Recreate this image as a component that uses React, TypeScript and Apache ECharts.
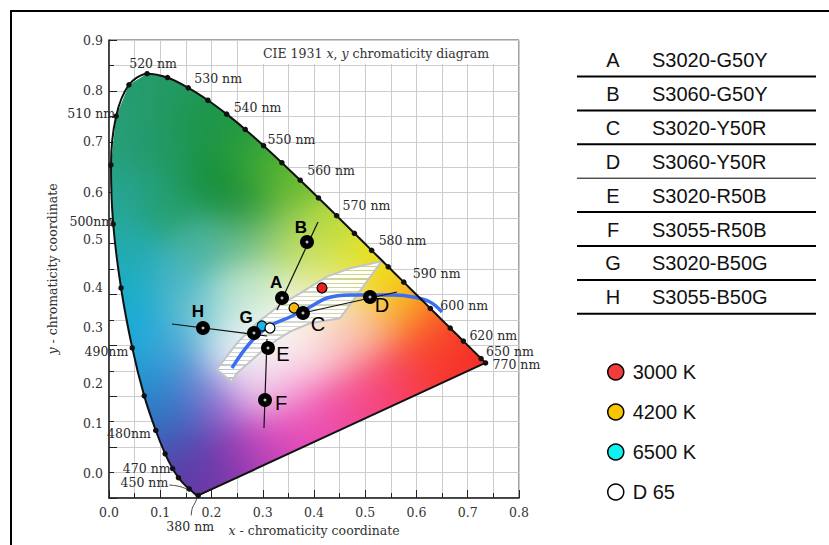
import React, { useEffect, useRef } from 'react';
import * as echarts from 'echarts';

// ---------- DATA ----------
// CIE 1931 2° spectral locus (wavelength nm, x, y)
const locusNm = [380,385,390,395,400,405,410,415,420,425,430,435,440,445,450,455,460,465,470,475,480,485,490,495,500,505,510,515,520,525,530,535,540,545,550,555,560,565,570,575,580,585,590,595,600,605,610,615,620,625,630,635,640,645,650,655,660,665,670,680,690,700];
const locusX = [0.1741,0.1740,0.1738,0.1736,0.1733,0.1730,0.1726,0.1721,0.1714,0.1703,0.1689,0.1669,0.1644,0.1611,0.1566,0.1510,0.1440,0.1355,0.1241,0.1096,0.0913,0.0687,0.0454,0.0235,0.0082,0.0039,0.0139,0.0389,0.0743,0.1142,0.1547,0.1929,0.2296,0.2658,0.3016,0.3373,0.3731,0.4087,0.4441,0.4788,0.5125,0.5448,0.5752,0.6029,0.6270,0.6482,0.6658,0.6801,0.6915,0.7006,0.7079,0.7140,0.7190,0.7230,0.7260,0.7283,0.7300,0.7311,0.7320,0.7334,0.7344,0.7347];
const locusY = [0.0050,0.0050,0.0049,0.0049,0.0048,0.0048,0.0048,0.0048,0.0051,0.0058,0.0069,0.0086,0.0109,0.0138,0.0177,0.0227,0.0297,0.0399,0.0578,0.0868,0.1327,0.2007,0.2950,0.4127,0.5384,0.6548,0.7502,0.8120,0.8338,0.8262,0.8059,0.7816,0.7543,0.7243,0.6923,0.6589,0.6245,0.5896,0.5547,0.5202,0.4866,0.4544,0.4242,0.3965,0.3725,0.3514,0.3340,0.3197,0.3083,0.2993,0.2920,0.2859,0.2809,0.2770,0.2740,0.2717,0.2700,0.2689,0.2680,0.2666,0.2656,0.2653];

// wavelengths marked with a dot on the locus
const dotNm = [380,450,465,470,475,480,485,490,495,500,505,510,515,520,525,530,535,540,545,550,555,560,565,570,575,580,585,590,600,610,620,650,700];

// wavelength labels
const nmLabelNm = [380,450,470,480,490,500,510,520,530,540,550,560,570,580,590,600,620,650,700];
const nmLabelText = ['380 nm','450 nm','470 nm','480nm','490nm','500nm','510 nm','520 nm','530 nm','540 nm','550 nm','560 nm','570 nm','580 nm','590 nm','600 nm','620 nm','650 nm','770 nm'];

// colour samples A–H
const pointNames = ['A','B','C','D','E','F','G','H'];
const pointX = [0.3376,0.3863,0.3785,0.5093,0.3102,0.3044,0.2829,0.1834];
const pointY = [0.3930,0.5030,0.3635,0.3950,0.2948,0.1926,0.3242,0.3340];

// lines through the samples (start / end)
const segX1 = [0.3278,0.3785,0.3083,0.1229];
const segY1 = [0.3695,0.3635,0.3124,0.3419];
const segX2 = [0.4078,0.5620,0.3024,0.3083];
const segY2 = [0.5424,0.4048,0.1375,0.3183];

// light sources
const cctNames = ['3000 K','4200 K','6500 K','D 65'];
const cctX = [0.4156,0.3610,0.2985,0.3141];
const cctY = [0.4127,0.3734,0.3380,0.3340];

// blue (Planckian-like) curve
const planckX = [0.240,0.2751,0.3102,0.3532,0.3922,0.4254,0.4702,0.5093,0.5580,0.5932,0.6263,0.6498];
const planckY = [0.2555,0.3046,0.3360,0.3557,0.3753,0.3930,0.3989,0.3989,0.3989,0.3950,0.3851,0.3655];

// hatched white band outline
const bandX = [0.2101,0.2492,0.2882,0.3337,0.3727,0.4248,0.4702,0.5321,0.4507,0.3922,0.3532,0.3272,0.3011,0.2751,0.2492,0.2394];
const bandY = [0.2525,0.3040,0.3433,0.3793,0.4022,0.4349,0.4514,0.4653,0.3531,0.3433,0.3268,0.3105,0.2908,0.2678,0.2450,0.2285];

// table on the right
const tableLetters = ['A','B','C','D','E','F','G','H'];
const tableCodes = ['S3020-G50Y','S3060-G50Y','S3020-Y50R','S3060-Y50R','S3020-R50B','S3055-R50B','S3020-B50G','S3055-B50G'];

const yTickLabels = ['0.0','0.1','0.2','0.3','0.4','0.5','0.6','0.7','0.8','0.9'];

// ---------- STYLE / LAYOUT ----------
const SERIF = "'DejaVu Serif', 'Liberation Serif', serif";
const SANS = "'Liberation Sans', Arial, sans-serif";

const nmLabelLayout: Record<number, [string, number, number]> = {
  380: ['center', -8, 31], 450: ['right', -21, -6], 470: ['right', -2, 0], 480: ['right', -5, 3],
  490: ['right', -4, 4], 500: ['right', 0, -3], 510: ['right', -1, -3], 520: ['center', 6, -10],
  530: ['left', 6, -9], 540: ['left', 7, -7], 550: ['left', 4, -6], 560: ['left', 7, -10],
  570: ['left', 6, -10], 580: ['left', 7, -10], 590: ['left', 9, -9], 600: ['left', 10, -3],
  620: ['left', 6, -6], 650: ['left', 5, -7], 700: ['left', 7, 2],
};
const pointLabelOffset: [number, number][] = [[-6,-16],[-6,-15],[15,11],[12,8],[15,6],[16,3],[-8,-16],[-5,-17]];
const pointLabelBold = [true,true,false,false,false,false,true,true];
const cctColors = ['#e8221e','#f5b914','#12b6e8','#ffffff'];
const cctLegendColors = ['#f23c3c','#f7c600','#12f0f0','#ffffff'];
// y tick label vertical shift (px, upwards) as placed in the original figure
const yLabelShift: Record<string, number> = { '0.0': 25, '0.1': 24, '0.2': 13, '0.3': 18, '0.4': 7, '0.5': 4 };

// background shading anchors for the chromaticity fill [x, y, colour]
const bgAnchors: [number, number, string][] = [
  [0.02,0.72,'#2f9a78'],[0.07,0.80,'#2e9870'],[0.13,0.80,'#2a9460'],[0.10,0.68,'#2a9466'],
  [0.18,0.74,'#24904e'],[0.25,0.71,'#2a9446'],[0.30,0.66,'#4aa83c'],[0.35,0.61,'#78bc3c'],
  [0.20,0.62,'#1f8a40'],[0.27,0.58,'#22883a'],[0.12,0.58,'#2c9a6c'],[0.04,0.60,'#30a090'],
  [0.03,0.50,'#2ea6a4'],[0.04,0.42,'#26a8c0'],[0.06,0.33,'#20a6d0'],[0.09,0.24,'#2890c8'],
  [0.12,0.17,'#3474b8'],[0.15,0.11,'#4a56aa'],[0.17,0.05,'#5a3c9c'],[0.21,0.06,'#6e3a9e'],
  [0.25,0.07,'#9440aa'],[0.30,0.10,'#c44cb4'],[0.36,0.14,'#dc50b2'],[0.43,0.18,'#e450a0'],
  [0.50,0.22,'#e84a80'],[0.57,0.26,'#ea4458'],[0.64,0.30,'#e83c38'],[0.70,0.29,'#e43030'],
  [0.66,0.32,'#ea4a30'],[0.62,0.35,'#f08030'],[0.58,0.38,'#f4b830'],[0.54,0.43,'#f0dc28'],
  [0.48,0.47,'#e2e030'],[0.42,0.52,'#b8d64a'],[0.38,0.48,'#c8e070'],[0.33,0.52,'#98c870'],
  [0.26,0.50,'#70b890'],[0.18,0.50,'#50b0a0'],[0.13,0.42,'#50b0c0'],[0.18,0.36,'#80c8d0'],
  [0.12,0.30,'#58a8d0'],[0.17,0.22,'#6a80c8'],[0.22,0.17,'#9a62c6'],[0.23,0.27,'#dce6f4'],
  [0.29,0.21,'#f0c0e6'],[0.36,0.22,'#f2b0d8'],[0.27,0.33,'#e8f4f0'],[0.33,0.32,'#f8f8f6'],
  [0.30,0.27,'#f8f6f8'],[0.39,0.29,'#faeaea'],[0.45,0.28,'#f4b8c0'],[0.46,0.35,'#f8dcc0'],
  [0.52,0.33,'#f4b890'],[0.38,0.38,'#f8f6e2'],[0.43,0.43,'#e8ec9c'],[0.31,0.42,'#d8ecc8'],
  [0.25,0.40,'#b8e0d0'],
];

function hexRgb(h: string) {
  const n = parseInt(h.slice(1), 16);
  return [(n >> 16) & 255, (n >> 8) & 255, n & 255];
}

function makeBackground(W: number, H: number): string {
  const lw = Math.round(W / 2), lh = Math.round(H / 2);
  const low = document.createElement('canvas');
  low.width = lw; low.height = lh;
  const lctx = low.getContext('2d')!;
  const img = lctx.createImageData(lw, lh);
  const an = bgAnchors.map(([ax, ay, c]) => [ax, ay, ...hexRgb(c)]);
  const s2 = 2 * 0.045 * 0.045;
  for (let j = 0; j < lh; j++) {
    const y = 0.9 - ((j + 0.5) / lh) * 0.9;
    for (let i = 0; i < lw; i++) {
      const x = ((i + 0.5) / lw) * 0.8;
      let sw = 1e-9, r = 0, g = 0, b = 0;
      for (let k = 0; k < an.length; k++) {
        const a = an[k];
        const dx = x - a[0], dy = y - a[1];
        const w = Math.exp(-(dx * dx + dy * dy) / s2);
        sw += w; r += w * a[2]; g += w * a[3]; b += w * a[4];
      }
      r /= sw; g /= sw; b /= sw;
      const L = 0.3 * r + 0.59 * g + 0.11 * b;
      const sat = 1.12;
      const o = (j * lw + i) * 4;
      img.data[o] = L + (r - L) * sat; img.data[o + 1] = L + (g - L) * sat; img.data[o + 2] = L + (b - L) * sat; img.data[o + 3] = 255;
    }
  }
  lctx.putImageData(img, 0, 0);
  const c = document.createElement('canvas');
  c.width = W; c.height = H;
  const ctx = c.getContext('2d')!;
  ctx.beginPath();
  locusX.forEach((x, i) => {
    const px = (x / 0.8) * W, py = ((0.9 - locusY[i]) / 0.9) * H;
    if (i === 0) ctx.moveTo(px, py); else ctx.lineTo(px, py);
  });
  ctx.closePath();
  ctx.clip();
  ctx.imageSmoothingEnabled = true;
  ctx.drawImage(low, 0, 0, W, H);
  return c.toDataURL();
}

function stripeGradient() {
  const n = 28;
  const line = 'rgba(185,200,185,0.55)';
  const white = 'rgba(255,255,255,0.97)';
  const stops: { offset: number; color: string }[] = [];
  for (let k = 0; k < n; k++) {
    const a = k / n, b = (k + 0.3) / n, c = (k + 1) / n;
    stops.push({ offset: a, color: line }, { offset: b, color: line }, { offset: b, color: white }, { offset: c, color: white });
  }
  return new echarts.graphic.LinearGradient(0, 0, 0, 1, stops);
}

const axisBase = (max: number) => ({
  type: 'value', min: 0, max, interval: 0.1,
  axisLine: { show: true, onZero: false, lineStyle: { color: '#222', width: 1.5 } },
  axisTick: { show: true, inside: true, length: 8, lineStyle: { color: '#222', width: 1 } },
  minorTick: { show: true, splitNumber: 2, length: 5, lineStyle: { color: '#222', width: 1 } },
  splitLine: { show: true, lineStyle: { color: '#cdcdcd', width: 1 } },
  minorSplitLine: { show: true, lineStyle: { color: '#cdcdcd', width: 1 } },
});

export default function App() {
  const ref = useRef<HTMLDivElement>(null);
  useEffect(() => {
    if (!ref.current) return;
    const chart = echarts.init(ref.current, undefined, { renderer: 'svg' });
    const bg = makeBackground(410, 458);
    const nmIndex = (nm: number) => locusNm.indexOf(nm);

    const richY: Record<string, any> = {};
    Object.keys(yLabelShift).forEach((k, i) => {
      richY['s' + i] = { fontFamily: SERIF, fontSize: 12.5, color: '#333', padding: [0, 0, 2 * yLabelShift[k], 0] };
    });
    const shiftKeys = Object.keys(yLabelShift);

    const locusLine = locusX.map((x, i) => [x, locusY[i]]);
    locusLine.push([locusX[0], locusY[0]]);

    const dotData = dotNm.map((nm) => {
      const i = nmIndex(nm);
      const li = nmLabelNm.indexOf(nm);
      const item: any = { value: [locusX[i], locusY[i]] };
      if (li >= 0) {
        const [al, dx, dy] = nmLabelLayout[nm];
        item.label = {
          show: true, formatter: nmLabelText[li], position: 'inside', align: al, verticalAlign: 'middle',
          offset: [dx, dy], fontFamily: SERIF, fontSize: 12.5, color: '#2a2a2a',
        };
      }
      return item;
    });

    const pointData = pointNames.map((n, i) => ({
      value: [pointX[i], pointY[i]], name: n,
      label: {
        show: true, formatter: n, position: 'inside', align: 'center', verticalAlign: 'middle',
        offset: pointLabelOffset[i], fontFamily: SANS, fontSize: pointLabelBold[i] ? 17 : 20,
        fontWeight: pointLabelBold[i] ? 'bold' : 'normal', color: '#000',
      },
    }));

    const cctSeries = cctNames.map((n, i) => ({
      type: 'scatter', name: n, data: [[cctX[i], cctY[i]]], symbolSize: 10, z: 6,
      itemStyle: { color: cctColors[i], borderColor: '#000', borderWidth: 1.2, opacity: 1 },
      emphasis: { disabled: true }, silent: true,
    }));

    const option: any = {
      animation: false,
      textStyle: { fontFamily: SERIF },
      grid: { left: 109, top: 40, right: 310, bottom: 47, show: true, borderColor: '#444', borderWidth: 1 },
      xAxis: {
        ...axisBase(0.8),
        axisLabel: { formatter: (v: number) => v.toFixed(1), color: '#333', fontFamily: SERIF, fontSize: 12.5, margin: 8 },
        name: '{i|x} - chromaticity coordinate', nameLocation: 'middle', nameGap: 25,
        nameTextStyle: { fontFamily: SERIF, fontSize: 12.5, color: '#333', rich: { i: { fontStyle: 'italic', fontFamily: SERIF, fontSize: 12.5, color: '#333' } } },
      },
      yAxis: {
        ...axisBase(0.9),
        axisLabel: {
          color: '#333', fontFamily: SERIF, fontSize: 12.5, margin: 6, rich: richY,
          formatter: (v: number) => {
            const s = yTickLabels[Math.round(v * 10)] ?? v.toFixed(1);
            const k = shiftKeys.indexOf(s);
            return k >= 0 ? `{s${k}|${s}}` : s;
          },
        },
        name: '{i|y} - chromaticity coordinate', nameLocation: 'middle', nameGap: 50,
        nameTextStyle: { fontFamily: SERIF, fontSize: 12.5, color: '#333', rich: { i: { fontStyle: 'italic', fontFamily: SERIF, fontSize: 12.5, color: '#333' } } },
      },
      legend: {
        data: cctNames.map((n, i) => ({ name: n, itemStyle: { color: cctLegendColors[i], borderColor: '#000', borderWidth: 1.5 } })),
        orient: 'vertical', left: 602, top: 357, itemWidth: 24, itemHeight: 16, itemGap: 20, icon: 'circle',
        selectedMode: false, textStyle: { fontFamily: SANS, fontSize: 20, color: '#111' },
      },
      series: [
        {
          type: 'custom', name: 'bg', silent: true, z: 1, data: [[0, 0.9]],
          renderItem: (_p: any, api: any) => {
            const a = api.coord([0, 0.9]);
            const b = api.coord([0.8, 0]);
            return { type: 'image', style: { image: bg, x: a[0], y: a[1], width: b[0] - a[0], height: b[1] - a[1] } };
          },
        },
        {
          type: 'custom', name: 'band', silent: true, z: 2, data: [[bandX[0], bandY[0]]],
          renderItem: (_p: any, api: any) => ({
            type: 'polygon',
            shape: { points: bandX.map((x, i) => api.coord([x, bandY[i]])) },
            style: { fill: stripeGradient(), stroke: '#c4c4c4', lineWidth: 2 },
          }),
        },
        {
          type: 'line', name: 'planck', data: planckX.map((x, i) => [x, planckY[i]]), smooth: 0.4,
          showSymbol: false, lineStyle: { color: '#3c6ef0', width: 3.5 }, z: 3, silent: true,
        },
        {
          type: 'lines', coordinateSystem: 'cartesian2d', z: 4, silent: true,
          data: segX1.map((x, i) => ({ coords: [[x, segY1[i]], [segX2[i], segY2[i]]] })),
          lineStyle: { color: '#111', width: 1.2, opacity: 1 },
        },
        {
          type: 'line', name: 'locus', data: locusLine, smooth: 0.3, showSymbol: false,
          lineStyle: { color: '#111', width: 2 }, z: 5, silent: true,
        },
        {
          type: 'scatter', name: 'dots', data: dotData, symbolSize: 5.5, z: 5,
          itemStyle: { color: '#111', opacity: 1 }, emphasis: { disabled: true }, silent: true,
        },
        ...cctSeries,
        {
          type: 'scatter', name: 'points', data: pointData, symbolSize: 14, z: 7,
          itemStyle: { color: '#000', opacity: 1 }, emphasis: { disabled: true }, silent: true,
        },
        {
          type: 'scatter', name: 'pointsCentre', data: pointX.map((x, i) => [x, pointY[i]]), symbolSize: 3, z: 8,
          itemStyle: { color: '#bdbdbd', opacity: 1 }, emphasis: { disabled: true }, silent: true,
        },
      ],
    };
    chart.setOption(option);

    const p450 = chart.convertToPixel({ gridIndex: 0 }, [locusX[nmIndex(450)], locusY[nmIndex(450)]]) as number[];
    const p380 = chart.convertToPixel({ gridIndex: 0 }, [locusX[0], locusY[0]]) as number[];

    const graphic: any[] = [
      { type: 'line', shape: { x1: 10, y1: 11, x2: 829, y2: 11 }, style: { stroke: '#000', lineWidth: 2 } },
      { type: 'line', shape: { x1: 11, y1: 10, x2: 11, y2: 545 }, style: { stroke: '#000', lineWidth: 2 } },
      { type: 'rect', shape: { x: 257, y: 41, width: 261, height: 23 }, style: { fill: '#fff' } },
      {
        type: 'text', x: 263, y: 53,
        style: {
          text: 'CIE 1931 {i|x}, {i|y} chromaticity diagram', fontFamily: SERIF, fontSize: 12.5, fill: '#333',
          verticalAlign: 'middle', rich: { i: { fontStyle: 'italic', fontFamily: SERIF, fontSize: 12.5, fill: '#333' } },
        },
      },
      {
        type: 'polyline', shape: { points: [[p450[0] - 20, p450[1] - 4], [p450[0] - 12, p450[1] - 3], [p450[0] - 5, p450[1] - 1], [p450[0] - 1, p450[1] + 1]], smooth: 0.4 },
        style: { stroke: '#333', lineWidth: 0.9, fill: null },
      },
      {
        type: 'polyline', shape: { points: [[p380[0] - 7, p380[1] + 20], [p380[0] - 6, p380[1] + 13], [p380[0] - 3, p380[1] + 7], [p380[0] - 1, p380[1] + 2]], smooth: 0.4 },
        style: { stroke: '#333', lineWidth: 0.9, fill: null },
      },
    ];
    tableLetters.forEach((l, i) => {
      const cy = 60 + i * 33.9;
      graphic.push({ type: 'text', x: 613, y: cy, style: { text: l, fontFamily: SANS, fontSize: 20, fill: '#111', align: 'center', verticalAlign: 'middle' } });
      graphic.push({ type: 'text', x: 652, y: cy, style: { text: tableCodes[i], fontFamily: SANS, fontSize: 20, fill: '#111', align: 'left', verticalAlign: 'middle' } });
      const ly = 76.5 + i * 33.9;
      graphic.push({ type: 'line', shape: { x1: 577, y1: ly, x2: 816, y2: ly }, style: { stroke: '#000', lineWidth: i === 3 ? 1 : 2 } });
    });
    chart.setOption({ graphic });

    return () => chart.dispose();
  }, []);
  return <div ref={ref} style={{ position: 'absolute', left: 0, top: 0, width: 829, height: 545, background: '#fff' }} />;
}
